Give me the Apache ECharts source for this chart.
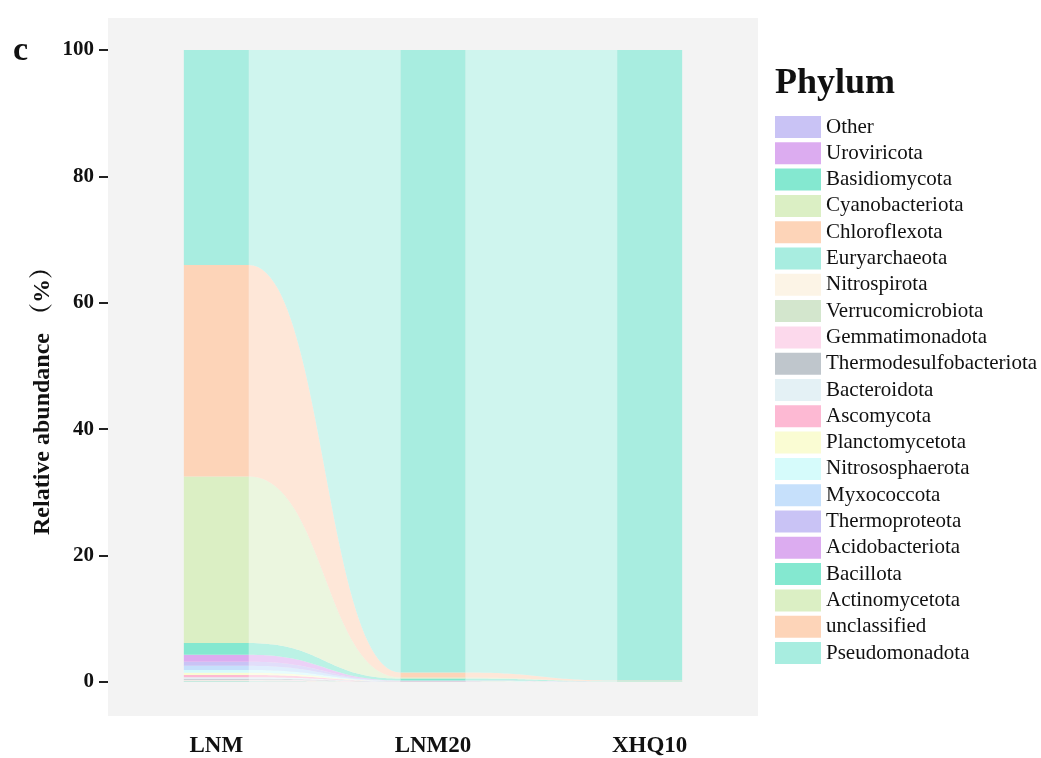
<!DOCTYPE html>
<html>
<head>
<meta charset="utf-8">
<script src="https://cdn.jsdelivr.net/npm/echarts@6/dist/echarts.min.js"></script>
<style>
  html, body { margin: 0; padding: 0; background: #ffffff; }
  #chart { width: 1041px; height: 758px; }
</style>
</head>
<body>
<div id="chart"></div>
<script>
// Samples along the x axis
const samples = ['LNM', 'LNM20', 'XHQ10'];

// Phyla in stacking order, bottom of each bar first
const phyla = [
  'Other', 'Uroviricota', 'Basidiomycota', 'Cyanobacteriota', 'Chloroflexota',
  'Euryarchaeota', 'Nitrospirota', 'Verrucomicrobiota', 'Gemmatimonadota',
  'Thermodesulfobacteriota', 'Bacteroidota', 'Ascomycota', 'Planctomycetota',
  'Nitrososphaerota', 'Myxococcota', 'Thermoproteota', 'Acidobacteriota',
  'Bacillota', 'Actinomycetota', 'unclassified', 'Pseudomonadota'
];

// Relative abundance (%) per sample, same order as phyla
const abundLNM = [
  0.03, 0.02, 0.02, 0.03, 0.03,
  0.04, 0.05, 0.06, 0.08,
  0.15, 0.25, 0.35, 0.35,
  0.45, 0.65, 0.65, 1.10,
  1.85, 26.34, 33.50, 34.00
];
const abundLNM20 = [
  0.01, 0.01, 0.01, 0.01, 0.01,
  0.01, 0.01, 0.01, 0.01,
  0.02, 0.02, 0.01, 0.02,
  0.02, 0.02, 0.02, 0.03,
  0.30, 0.15, 0.80, 98.50
];
const abundXHQ10 = [
  0, 0, 0, 0, 0,
  0.01, 0, 0, 0,
  0.01, 0.01, 0.01, 0.01,
  0.01, 0.01, 0.01, 0.01,
  0.02, 0.03, 0.10, 99.76
];

// Fill colours, same order as phyla
const phylumColors = [
  '#c9c3f5', '#dcacf0', '#84e8d0', '#dbefc4', '#fdd4b8',
  '#a8ede0', '#fcf4e6', '#d3e6cd', '#fcd9ec',
  '#bfc6cc', '#e4f1f5', '#fdb9d3', '#fafcd3',
  '#d6fbfb', '#c6e0fb', '#c9c3f5', '#dcacf0',
  '#84e8d0', '#dbefc4', '#fdd4b8', '#a8ede0'
];

const yTicks = [0, 20, 40, 60, 80, 100];

const serif = "'Liberation Serif', 'Times New Roman', 'Noto Serif CJK SC', 'Noto Sans CJK SC', serif";
const sampleValues = [abundLNM, abundLNM20, abundXHQ10];

// cumulative [low, high] of every phylum in every sample
const stacks = phyla.map(() => []);
sampleValues.forEach((vals, s) => {
  let acc = 0;
  vals.forEach((v, p) => {
    stacks[p][s] = [acc, acc + v];
    acc += v;
  });
});

const BAR_FRAC = 0.3;     // bar width as a share of the category band
const FLOW_MIX = 0.55;    // how much of the phylum colour shows in a flow band

// lighten a hex colour towards white
function flowColor(hex) {
  const n = parseInt(hex.slice(1), 16);
  const ch = [(n >> 16) & 255, (n >> 8) & 255, n & 255]
    .map(c => Math.round(255 - FLOW_MIX * (255 - c)));
  return 'rgb(' + ch.join(',') + ')';
}

// cubic S-curve between two bar edges
function sCurve(x0, y0, x1, y1, n) {
  const xm = (x0 + x1) / 2;
  const pts = [];
  for (let k = 0; k <= n; k++) {
    const t = k / n, u = 1 - t;
    const x = u * u * u * x0 + 3 * u * u * t * xm + 3 * u * t * t * xm + t * t * t * x1;
    const y = u * u * u * y0 + 3 * u * u * t * y0 + 3 * u * t * t * y1 + t * t * t * y1;
    pts.push([x, y]);
  }
  return pts;
}

function makeRenderItem(p) {
  const barFill = phylumColors[p];
  const flowFill = flowColor(phylumColors[p]);
  return function (params, api) {
    const i = api.value(0);
    const lo = api.value(1), hi = api.value(2);
    const band = api.size([1, 0])[0];
    const half = band * BAR_FRAC / 2;
    const pLo = api.coord([i, lo]);
    const pHi = api.coord([i, hi]);
    const children = [];
    if (i < samples.length - 1) {
      const nLo = api.value(3), nHi = api.value(4);
      if (hi > lo || nHi > nLo) {
        const qLo = api.coord([i + 1, nLo]);
        const qHi = api.coord([i + 1, nHi]);
        const x0 = pLo[0] + half, x1 = qLo[0] - half;
        const top = sCurve(x0, pHi[1], x1, qHi[1], 48);
        const bot = sCurve(x0, pLo[1], x1, qLo[1], 48).reverse();
        children.push({
          type: 'polygon',
          shape: { points: top.concat(bot) },
          style: { fill: flowFill },
          z2: 1
        });
      }
    }
    if (hi > lo) {
      children.push({
        type: 'rect',
        shape: { x: pLo[0] - half, y: pHi[1], width: half * 2, height: pLo[1] - pHi[1] },
        style: { fill: barFill },
        z2: 10
      });
    }
    return { type: 'group', children: children };
  };
}

const series = phyla.map((name, p) => ({
  name: name,
  type: 'custom',
  renderItem: makeRenderItem(p),
  itemStyle: { color: phylumColors[p] },
  encode: { x: 0, y: [1, 2] },
  data: samples.map((s, i) => {
    const cur = stacks[p][i];
    const nxt = i < samples.length - 1 ? stacks[p][i + 1] : cur;
    return [i, cur[0], cur[1], nxt[0], nxt[1]];
  }),
  silent: true
}));

const chart = echarts.init(document.getElementById('chart'), null, { renderer: 'canvas' });
chart.setOption({
  animation: false,
  backgroundColor: '#ffffff',
  grid: { left: 108, right: 283, top: 50, bottom: 75 },
  xAxis: {
    type: 'category',
    data: samples,
    boundaryGap: true,
    axisLine: { show: false },
    axisTick: { show: false },
    splitLine: { show: false },
    axisLabel: {
      margin: 53,
      fontFamily: serif,
      fontWeight: 'bold',
      fontSize: 23,
      color: '#111'
    }
  },
  yAxis: {
    type: 'value',
    min: 0,
    max: 100,
    interval: 20,
    axisLine: { show: false },
    axisTick: { show: true, length: 9, lineStyle: { color: '#222', width: 2 } },
    splitLine: { show: false },
    axisLabel: {
      margin: 14,
      fontFamily: serif,
      fontWeight: 'bold',
      fontSize: 21,
      color: '#111',
      formatter: v => (yTicks.indexOf(v) >= 0 ? String(v) : '')
    }
  },
  legend: {
    orient: 'vertical',
    left: 770,
    top: 111,
    itemWidth: 46,
    itemHeight: 22,
    itemGap: 4.3,
    icon: 'rect',
    selectedMode: false,
    data: phyla.slice(),
    textStyle: { fontFamily: serif, fontSize: 21, color: '#111' }
  },
  graphic: [
    {
      type: 'rect',
      z: -10,
      silent: true,
      shape: { x: 108, y: 18, width: 650, height: 698 },
      style: { fill: '#f3f3f3' }
    },
    {
      type: 'text',
      x: 13, y: 51,
      silent: true,
      style: {
        text: 'c', fontFamily: serif, fontWeight: 'bold', fontSize: 34,
        fill: '#111', align: 'left', verticalAlign: 'middle'
      }
    },
    {
      type: 'text',
      x: 775, y: 84,
      silent: true,
      style: {
        text: 'Phylum', fontFamily: serif, fontWeight: 'bold', fontSize: 36,
        fill: '#111', align: 'left', verticalAlign: 'middle'
      }
    },
    {
      type: 'text',
      x: 43, y: 535,
      rotation: Math.PI / 2,
      silent: true,
      style: {
        text: 'Relative abundance （%）', fontFamily: serif, fontWeight: 'bold', fontSize: 24,
        fill: '#111', align: 'left', verticalAlign: 'middle'
      }
    }
  ],
  series: series
});
</script>
</body>
</html>
